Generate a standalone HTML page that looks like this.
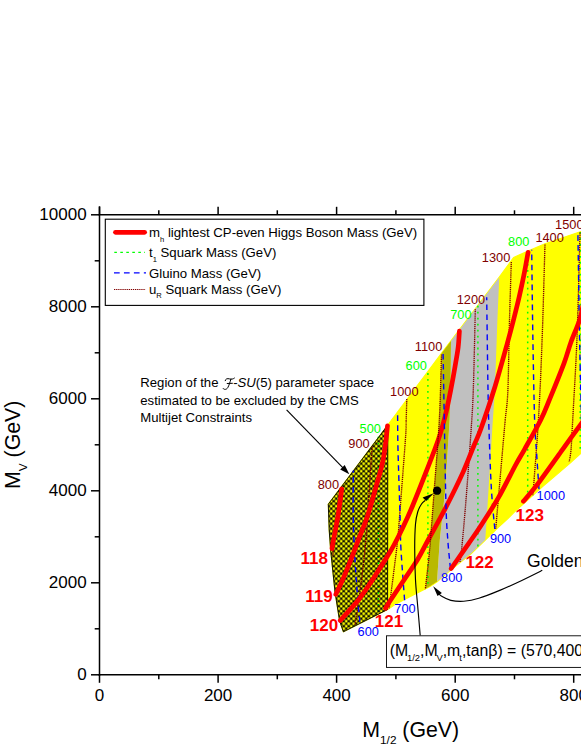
<!DOCTYPE html>
<html><head><meta charset="utf-8"><title>F-SU(5) parameter space</title>
<style>
html,body{margin:0;padding:0;background:#fff;}
body{width:581px;height:752px;overflow:hidden;}
svg{display:block;}
text{font-family:"Liberation Sans",sans-serif;}
.ser{font-family:"Liberation Serif",serif;}
</style></head><body>
<svg width="581" height="752" viewBox="0 0 581 752">
<defs>
<pattern id="hx" x="1.25" y="1.25" width="5" height="5" patternUnits="userSpaceOnUse"><path d="M-2,-2H7V7H-2Z M-1.42,0 a1.42,1.42 0 1,0 2.84,0 a1.42,1.42 0 1,0 -2.84,0Z M3.58,0 a1.42,1.42 0 1,0 2.84,0 a1.42,1.42 0 1,0 -2.84,0Z M-1.42,5 a1.42,1.42 0 1,0 2.84,0 a1.42,1.42 0 1,0 -2.84,0Z M3.58,5 a1.42,1.42 0 1,0 2.84,0 a1.42,1.42 0 1,0 -2.84,0Z M1.08,2.5 a1.42,1.42 0 1,0 2.84,0 a1.42,1.42 0 1,0 -2.84,0Z" fill="#000" fill-rule="evenodd"/></pattern>
<clipPath id="cp"><path d="M328.3,504.2 L387.8,425 L442.4,352 L459.5,329.5 L499.3,277 L513.6,257.5 L528.6,250.7 L545,243.7 L581,231.5 L581,453.1 L569.8,463.4 L556.1,475.1 L542.3,486.8 L528.5,499.2 L514.8,511.6 L507.9,518.5 L498.3,527.3 L485.3,540 L471,553.8 L450.4,570.3 L437,581.8 L429.6,586.7 L412.3,595.4 L395,604.5 L387.6,609.5 L343.4,631.8 L339.6,620.9 L335,592 L330.7,550.7 L329.2,530 L328.3,504.2Z"/></clipPath>
</defs>
<rect width="581" height="752" fill="#fff"/>
<path d="M328.3,504.2 L387.8,425 L442.4,352 L459.5,329.5 L499.3,277 L513.6,257.5 L528.6,250.7 L545,243.7 L581,231.5 L581,453.1 L569.8,463.4 L556.1,475.1 L542.3,486.8 L528.5,499.2 L514.8,511.6 L507.9,518.5 L498.3,527.3 L485.3,540 L471,553.8 L450.4,570.3 L437,581.8 L429.6,586.7 L412.3,595.4 L395,604.5 L387.6,609.5 L343.4,631.8 L339.6,620.9 L335,592 L330.7,550.7 L329.2,530 L328.3,504.2Z" fill="#ffff00" stroke="#ffff00" stroke-width="1.2" stroke-linejoin="round"/>
<path d="M441.5,353.3 L451,340.8 L450.6,390 L449.6,420 L445.2,490 L439.8,540 L437,581.8 L425.4,589 L429.6,549.8 L434.2,490 L439.3,420 L441.5,354.5Z" fill="#b9b900" clip-path="url(#cp)"/>
<path d="M451,340.8 L499.3,277 L497.4,320 L494.9,390 L492.2,430 L488.5,490 L485.3,540 L471,553.8 L450.4,570.3 L437,581.8 L439.8,540 L445.2,490 L449.6,420 L450.6,390Z" fill="#c0c0c0" clip-path="url(#cp)"/>
<g fill="none" stroke-linecap="butt">
<path d="M378.3,436.8 V613.5" stroke="#00ff00" stroke-width="1.5" stroke-dasharray="1.8 4.17"/>
<path d="M427.9,373.1 V587" stroke="#00ff00" stroke-width="1.5" stroke-dasharray="1.8 4.17"/>
<path d="M477.9,305.8 V547" stroke="#00ff00" stroke-width="1.5" stroke-dasharray="1.8 4.17"/>
<path d="M527.7,252 V498" stroke="#00ff00" stroke-width="1.5" stroke-dasharray="1.8 4.17"/>
<path d="M580.2,232 V453" stroke="#00ff00" stroke-width="1.5" stroke-dasharray="1.8 4.17"/>
</g>
<path d="M328.3,504.2 L387.8,425 L387.6,609.5 L343.4,631.8 L339.6,620.9 L335,592 L330.7,550.7 L329.2,530Z" fill="url(#hx)" stroke="#000" stroke-width="0.9" stroke-linejoin="round"/>
<g fill="none" stroke-linecap="butt">
<path d="M339.6,490.5 C339,495.8 337.1,511.1 336,522 C334.9,532.9 333.4,550.3 332.9,556" stroke="#800000" stroke-width="1.35" stroke-dasharray="1.3 0.8"/>
<path d="M372.1,446.6 C371.6,454.9 369.8,481.8 368.8,496.5 C367.8,511.2 367.6,520.8 366.3,535 C365.1,549.2 363.2,566.6 361.3,581.6 C359.4,596.6 356.1,617.8 355,625" stroke="#800000" stroke-width="1.35" stroke-dasharray="1.3 0.8"/>
<path d="M406.8,399.1 C406.7,402.6 406.4,413.2 406.2,420 C406,426.8 406.5,423.1 405.4,439.8 C404.2,456.5 400.6,502.9 399.3,520 C398,537.1 398.9,529 397.4,542.4 C395.9,555.8 391.5,589.2 390.2,600.2 C388.9,611.2 389.4,607.1 389.3,608.5" stroke="#800000" stroke-width="1.35" stroke-dasharray="1.3 0.8"/>
<path d="M475.3,309.3 C475,322.7 474,369.7 473.3,389.8 C472.6,409.9 472.3,411.6 471.1,430 C469.9,448.4 467.6,480 466,500 C464.4,520 462.6,539.4 461.6,549.8 C460.6,560.2 460.2,560.4 459.9,562.5" stroke="#800000" stroke-width="1.35" stroke-dasharray="1.3 0.8"/>
<path d="M511.3,261.9 C511,271.6 510.1,298.7 509.5,320 C508.9,341.3 508.6,373.1 507.9,389.8 C507.2,406.5 506.1,410 505.2,420 C504.3,430 504.2,431.6 502.6,449.8 C501,468 496.9,515.8 495.7,529" stroke="#800000" stroke-width="1.35" stroke-dasharray="1.3 0.8"/>
<path d="M545,244.6 C544.6,257.2 543.5,297.4 542.8,320 C542,342.6 541.3,362.5 540.5,380 C539.7,397.5 538.8,413.6 538.1,425.2 C537.4,436.8 537.3,438.1 536.4,449.8 C535.5,461.5 533.5,487.7 532.9,495.3" stroke="#800000" stroke-width="1.35" stroke-dasharray="1.3 0.8"/>
<path d="M580,232.5 C579.5,250 578.2,306.1 577,337.3 C575.8,368.6 573.7,401.2 572.7,420 C571.7,438.8 571.6,442.9 571,449.8 C570.4,456.7 569.5,459.6 569.2,461.5" stroke="#800000" stroke-width="1.35" stroke-dasharray="1.3 0.8"/>
<path d="M359.8,621.9 C359.4,616.9 358.2,607.3 357.1,592 C356.1,576.7 354.1,550.2 353.5,530 C352.9,509.8 353.3,480.5 353.3,470.6" stroke="#0000ff" stroke-width="1.4" stroke-dasharray="5.7 4.25"/>
<path d="M404.6,600.2 C404,591.8 401.8,564.2 401,549.8 C400.2,535.4 400.5,530.4 400,513.8 C399.5,497.2 398.4,466.9 398,450 C397.6,433.1 397.7,418.4 397.6,412.1" stroke="#0000ff" stroke-width="1.4" stroke-dasharray="5.7 4.25"/>
<path d="M494.8,529 C494.2,522.4 492.4,505.7 491.4,489.2 C490.4,472.7 489.6,446.6 489,430 C488.4,413.4 488.4,411.9 488,389.8 C487.6,367.7 486.9,312.6 486.7,297.2" stroke="#0000ff" stroke-width="1.4" stroke-dasharray="5.7 4.25"/>
<path d="M539,489.2 C538.6,483.4 537.4,466.1 536.7,454.6 C536,443.1 535.2,439.1 534.6,420 C534,400.9 533.4,368.2 532.9,339.8 C532.4,311.4 531.9,264.8 531.7,249.8" stroke="#0000ff" stroke-width="1.4" stroke-dasharray="5.7 4.25"/>
<path d="M581.5,420 C581.2,406.6 580.2,370.9 579.6,339.8 C579,308.7 578.2,251.1 577.9,233.4" stroke="#0000ff" stroke-width="1.4" stroke-dasharray="5.7 4.25"/>
<path d="M341.7,488.8 C341.5,490.7 340.9,495.8 340.3,500 C339.7,504.2 339.1,509.3 338.3,514 C337.6,518.7 336.6,523.7 335.8,528 C335,532.3 334.1,536.4 333.5,539.8 C332.9,543.2 332.2,547.1 332,548.6" stroke="#ff0000" stroke-width="4.7" stroke-linecap="round" stroke-linejoin="round"/>
<path d="M387.5,425.8 C387.2,428.2 386.8,434 386,440 C385.2,446 384.4,453.9 382.7,461.9 C381,469.9 378.3,478.7 375.7,487.9 C373.1,497.1 370,508.6 367.1,517.3 C364.2,525.9 360.9,533.2 358.4,539.8 C355.9,546.4 354.6,550.2 352,556.8 C349.4,563.4 345.4,573.3 342.7,579.6 C340,585.9 336.9,591.9 335.8,594.4" stroke="#ff0000" stroke-width="4.7" stroke-linecap="round" stroke-linejoin="round"/>
<path d="M459.4,331.2 C459.2,333.8 458.8,341.6 458.2,347 C457.6,352.4 456.7,356.7 455.5,363.8 C454.3,370.9 452.5,381.1 450.8,389.8 C449.1,398.5 447.3,407.7 445.2,416 C443.1,424.3 441.5,430.5 438.3,439.8 C435.1,449.1 430.4,460.8 426.1,471.9 C421.8,483 416.2,497.1 412.3,506.5 C408.4,515.9 405.7,521.6 402.6,528 C399.6,534.4 396.6,540.2 394,545 C391.4,549.8 390.7,551 387.1,556.8 C383.5,562.6 377.4,572.4 372.6,579.6 C367.8,586.8 363.6,593.4 358.2,600.2 C352.8,607 343.2,617.1 340.2,620.5" stroke="#ff0000" stroke-width="4.7" stroke-linecap="round" stroke-linejoin="round"/>
<path d="M528.1,252.3 C527.5,255.6 525.9,264.8 524.5,272 C523.1,279.2 521.3,287.5 519.5,295.5 C517.7,303.5 515.5,312.1 513.5,320 C511.5,327.9 510.6,331.4 507.4,343 C504.1,354.6 498.4,375.6 494,389.8 C489.6,404.1 484.3,419.3 481,428.5 C477.7,437.7 477.2,437.8 474.2,445 C471.2,452.2 467.8,461.6 463.2,471.9 C458.6,482.1 452.1,495.3 446.3,506.5 C440.6,517.7 433.5,530.2 428.7,539 C423.9,547.8 421.8,552.5 417.6,559.5 C413.4,566.5 408.1,573.7 403.5,580.7 C398.9,587.7 392.8,596.7 389.8,601.3 C386.8,605.9 386.3,607.1 385.6,608.3" stroke="#ff0000" stroke-width="4.7" stroke-linecap="round" stroke-linejoin="round"/>
<path d="M441.5,354.5 C441.1,365.4 440.5,397.4 439.3,420 C438.1,442.6 435.8,468.4 434.2,490 C432.6,511.6 431.1,533.2 429.6,549.8 C428.1,566.3 426,582.7 425.3,589.3" stroke="#800000" stroke-width="1.35" stroke-dasharray="1.3 0.8"/>
<path d="M450.4,568.5 C450,563.8 448.5,550.3 447.8,540 C447.1,529.7 446.6,526.5 446,506.5 C445.4,486.5 444.8,445.5 444.3,420 C443.8,394.5 443.3,364.4 443.1,353.3" stroke="#0000ff" stroke-width="1.4" stroke-dasharray="5.7 4.25"/>
<path d="M584,300 C583.3,303.3 581.8,313 579.6,320 C577.4,327 573.6,334.8 571,342 C568.4,349.2 567.5,354 564,363.3 C560.5,372.6 554.1,388.4 550.2,397.9 C546.3,407.3 545,411.4 540.7,420 C536.4,428.6 528.5,442.3 524.3,449.8 C520.1,457.3 519.9,457 515.6,465 C511.3,473 504.1,487.8 498.3,497.9 C492.5,508 485.5,518.5 481,525.5 C476.5,532.5 473.9,536 471.1,540 C468.3,544 467.5,545 464.2,549.8 C460.9,554.5 453.4,565.4 451.2,568.5" stroke="#ff0000" stroke-width="4.7" stroke-linecap="round" stroke-linejoin="round"/>
<path d="M584,420 C583.5,420.7 584.6,419 581,424 C577.4,429 566,444.7 562.3,449.8 C558.6,454.9 563.2,448.6 558.9,454.6 C554.6,460.6 542.3,477.9 536.4,485.7 C530.5,493.5 525.6,498.7 523.4,501.3" stroke="#ff0000" stroke-width="4.7" stroke-linecap="round" stroke-linejoin="round"/>
</g>
<circle cx="437.1" cy="490.7" r="4.15" fill="#000"/>
<g fill="none" stroke="#000" stroke-width="1.15">
<path d="M420.2,635.5 C419.8,630.4 418.4,614.2 417.6,605 C416.8,595.8 416,589.5 415.5,580 C415,570.5 414.7,557.3 414.7,548 C414.7,538.7 415,530 415.5,524 C416,518 416.7,515.4 417.7,512 C418.7,508.6 420.4,505.7 421.7,503.8 C423,501.9 424.7,501 425.3,500.4"/>
<path d="M542.3,570.3 C538.9,572 528.8,577.1 521.8,580.4 C514.8,583.7 507.5,587.1 500.3,590.1 C493.1,593.1 484.9,596.4 478.8,598.3 C472.7,600.2 468.4,600.9 463.7,601.3 C459,601.6 454.4,601.2 450.8,600.4 C447.2,599.6 444.5,598 442.2,596.6 C439.9,595.2 438,593 437.2,592.3"/>
<path d="M286.6,409.8 L343,467.8"/>
</g>
<path d="M433.8,493.2 L422.6,497.4 L426.2,501 Z" fill="#000"/>
<path d="M433.2,586.3 L437.5,596.1 L441.9,592.9 Z" fill="#000"/>
<path d="M349.3,474.2 L340.2,469.5 L344.7,465 Z" fill="#000"/>
<text x="317.7" y="488.7" font-size="12.8" fill="#800000">800</text>
<text x="348.3" y="447.9" font-size="12.8" fill="#800000">900</text>
<text x="390.1" y="395.6" font-size="12.8" fill="#800000">1000</text>
<text x="414.8" y="350.7" font-size="12.8" fill="#800000">1100</text>
<text x="456.7" y="303.6" font-size="12.8" fill="#800000">1200</text>
<text x="481.8" y="261.6" font-size="12.8" fill="#800000">1300</text>
<text x="535.4" y="242" font-size="12.8" fill="#800000">1400</text>
<text x="555.1" y="229" font-size="12.8" fill="#800000">1500</text>
<text x="359.6" y="432.5" font-size="12.8" fill="#00ff00">500</text>
<text x="405.6" y="369.7" font-size="12.8" fill="#00ff00">600</text>
<text x="450.2" y="319" font-size="12.8" fill="#00ff00">700</text>
<text x="508.1" y="246.3" font-size="12.8" fill="#00ff00">800</text>
<text x="357.6" y="636.4" font-size="12.8" fill="#0000ff">600</text>
<text x="394.3" y="613.1" font-size="12.8" fill="#0000ff">700</text>
<text x="441.1" y="582.4" font-size="12.8" fill="#0000ff">800</text>
<text x="489.9" y="542.5" font-size="12.8" fill="#0000ff">900</text>
<text x="536.6" y="500.4" font-size="12.8" fill="#0000ff">1000</text>
<text x="300.5" y="563.5" font-size="17" font-weight="bold" fill="#ff0000">118</text>
<text x="305.2" y="601.9" font-size="17" font-weight="bold" fill="#ff0000">119</text>
<text x="309.8" y="630.6" font-size="17" font-weight="bold" fill="#ff0000">120</text>
<text x="374.8" y="627" font-size="17" font-weight="bold" fill="#ff0000">121</text>
<text x="465.4" y="567.7" font-size="17" font-weight="bold" fill="#ff0000">122</text>
<text x="515.6" y="520.7" font-size="17" font-weight="bold" fill="#ff0000">123</text>
<text x="527.1" y="566.7" font-size="17.5" fill="#000">Golden Strip</text>
<g font-size="13.15" fill="#000">
<text x="140.3" y="387.3">Region of the</text>
<path d="M225.2,380.7 C225.5,378.7 227.4,378.3 229.5,378.9 C231.5,379.5 233,379.1 234.4,378.1 M230.9,379.1 C230,382.2 229,385.5 227.8,387.6 C226.6,389.7 224.2,390 223.1,388.5 M227.2,383.5 L232.4,383.3" fill="none" stroke="#000" stroke-width="1" stroke-linecap="round"/>
<text x="233.2" y="387.3">-<tspan font-style="italic">SU</tspan>(5) parameter space</text>
<text x="140.3" y="404.6">estimated to be excluded by the CMS</text>
<text x="140.3" y="421.7">Multijet Constraints</text>
</g>
<rect x="386.5" y="635.8" width="230" height="31.6" fill="#fff" stroke="#000" stroke-width="0.9"/>
<text x="389.8" y="656.1" font-size="15.8" fill="#000">(M<tspan font-size="9.4" dx="-1.2" dy="5.1">1/2</tspan><tspan dy="-5.1">,M</tspan><tspan font-size="9.4" dx="-1.2" dy="5.1">V</tspan><tspan dy="-5.1">,m</tspan><tspan font-size="9.4" dx="-0.9" dy="5.1">t</tspan><tspan dy="-5.1">,tan&#946;) = (570,4000,174.4,20)</tspan></text>
<rect x="105.3" y="219.2" width="318.6" height="86.2" fill="#fff" stroke="#000" stroke-width="1.1"/>
<path d="M115.5,232.3 H144.6" stroke="#ff0000" stroke-width="4.8" stroke-linecap="round" fill="none"/>
<path d="M114.3,252.4 H145" stroke="#00ff00" stroke-width="1.2" stroke-dasharray="2.6 3.4" fill="none"/>
<path d="M114,272.9 H146" stroke="#0000ff" stroke-width="1.3" stroke-dasharray="5.7 4.25" fill="none"/>
<path d="M114,289.5 H145.6" stroke="#800000" stroke-width="1.1" stroke-dasharray="1.3 0.8" fill="none"/>
<g font-size="13.2" fill="#000">
<text x="149" y="237">m<tspan font-size="7.6" dy="4.6">h</tspan><tspan dy="-4.6"> lightest CP-even Higgs Boson Mass (GeV)</tspan></text>
<text x="149" y="256.9">t<tspan font-size="7.6" dy="4.6">1</tspan><tspan dy="-4.6"> Squark Mass (GeV)</tspan></text>
<text x="149" y="277.5">Gluino Mass (GeV)</text>
<text x="149" y="293.8">u<tspan font-size="7.6" dy="4.6">R</tspan><tspan dy="-4.6"> Squark Mass (GeV)</tspan></text>
</g>
<g stroke="#000" stroke-width="1.5" fill="none" stroke-linecap="butt">
<path d="M99.5,206.3 V675.8"/>
<path d="M98.5,674.8 H583"/>
<path d="M98.5,214.8 H583"/>
<path d="M91,674.8 H99.5"/>
<path d="M94.7,628.8 H99.5"/>
<path d="M91,582.8 H99.5"/>
<path d="M94.7,536.8 H99.5"/>
<path d="M91,490.8 H99.5"/>
<path d="M94.7,444.8 H99.5"/>
<path d="M91,398.8 H99.5"/>
<path d="M94.7,352.8 H99.5"/>
<path d="M91,306.8 H99.5"/>
<path d="M94.7,260.8 H99.5"/>
<path d="M91,214.8 H99.5"/>
<path d="M99.5,674.8 V682.8"/>
<path d="M99.5,214.8 V206.8"/>
<path d="M158.8,674.8 V679.3"/>
<path d="M158.8,214.8 V210.3"/>
<path d="M218.1,674.8 V682.8"/>
<path d="M218.1,214.8 V206.8"/>
<path d="M277.3,674.8 V679.3"/>
<path d="M277.3,214.8 V210.3"/>
<path d="M336.6,674.8 V682.8"/>
<path d="M336.6,214.8 V206.8"/>
<path d="M395.9,674.8 V679.3"/>
<path d="M395.9,214.8 V210.3"/>
<path d="M455.2,674.8 V682.8"/>
<path d="M455.2,214.8 V206.8"/>
<path d="M514.5,674.8 V679.3"/>
<path d="M514.5,214.8 V210.3"/>
<path d="M573.7,674.8 V682.8"/>
<path d="M573.7,214.8 V206.8"/>
<path d="M633,674.8 V679.3"/>
<path d="M633,214.8 V210.3"/>
</g>
<g font-size="17" fill="#000">
<text x="86.6" y="679.9" text-anchor="end">0</text>
<text x="86.6" y="587.9" text-anchor="end">2000</text>
<text x="86.6" y="495.9" text-anchor="end">4000</text>
<text x="86.6" y="403.9" text-anchor="end">6000</text>
<text x="86.6" y="311.9" text-anchor="end">8000</text>
<text x="86.6" y="219.9" text-anchor="end">10000</text>
<text x="99.5" y="700.7" text-anchor="middle">0</text>
<text x="218.1" y="700.7" text-anchor="middle">200</text>
<text x="336.6" y="700.7" text-anchor="middle">400</text>
<text x="455.2" y="700.7" text-anchor="middle">600</text>
<text x="573.7" y="700.7" text-anchor="middle">800</text>
</g>
<text x="362.3" y="736.6" font-size="21.3" fill="#000">M<tspan font-size="11.8" dy="7.3">1/2</tspan><tspan dy="-7.3"> (GeV)</tspan></text>
<text transform="translate(19.6,489) rotate(-90)" font-size="21.3" fill="#000">M<tspan font-size="11.8" dy="7">V</tspan><tspan dy="-7"> (GeV)</tspan></text>
</svg>
</body></html>
